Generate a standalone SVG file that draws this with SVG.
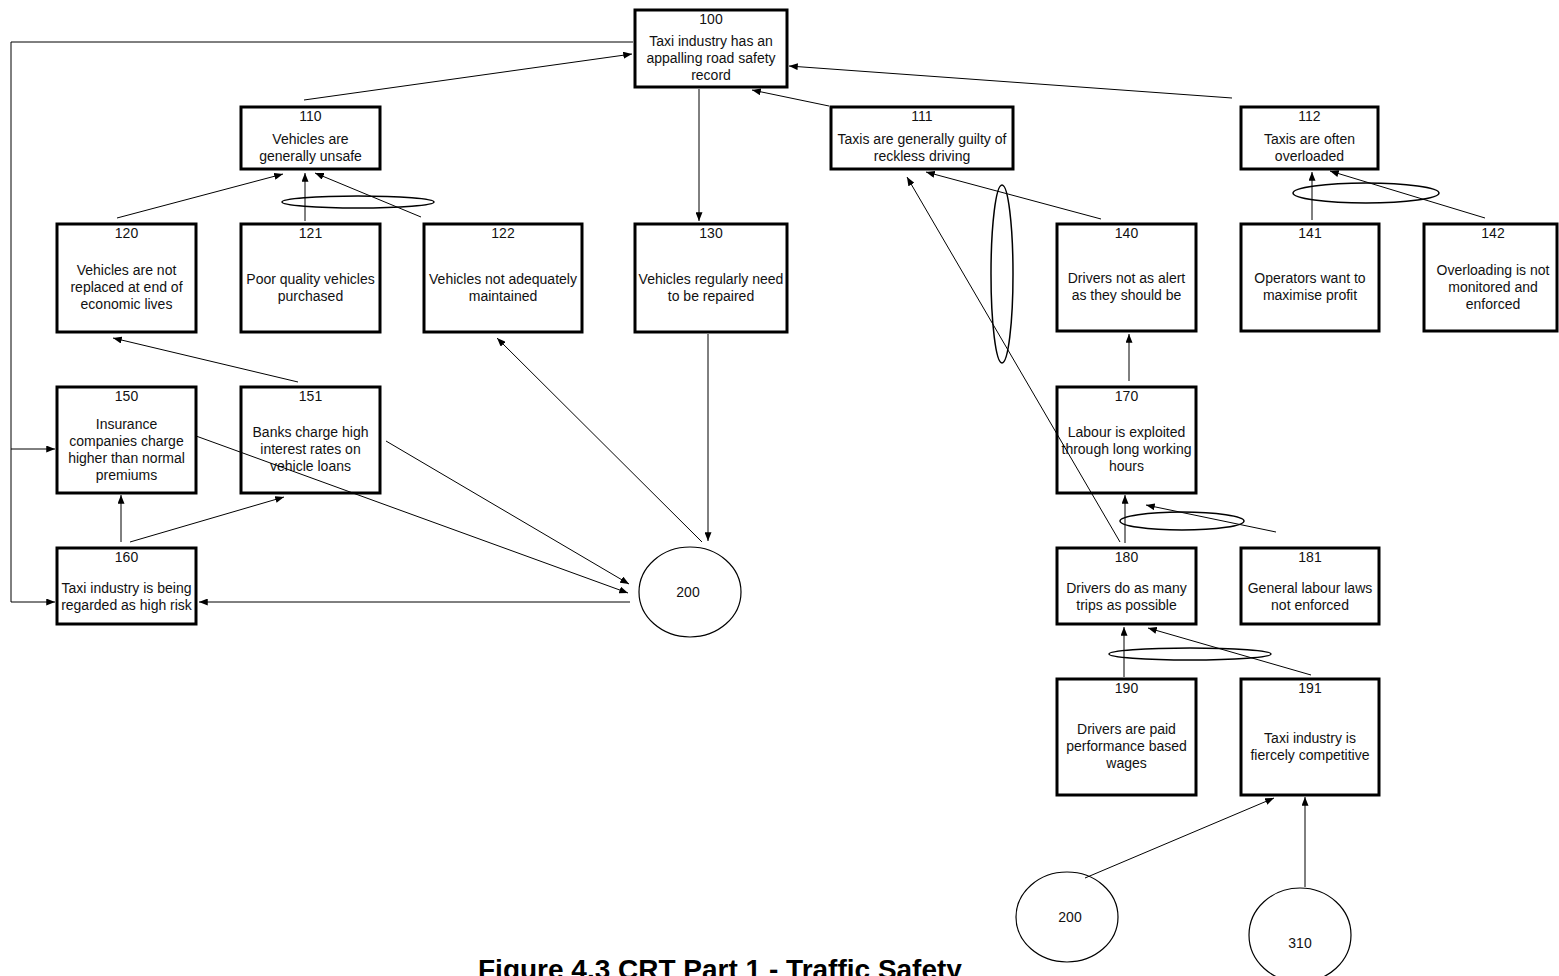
<svg xmlns="http://www.w3.org/2000/svg" width="1559" height="976" viewBox="0 0 1559 976">
<defs>
<style>
.box{fill:#fff;stroke:#000;stroke-width:3}
.t{font-family:"Liberation Sans",Arial,sans-serif;font-size:14px;fill:#111;text-anchor:middle}
.c{fill:none;stroke:#000;stroke-width:1}
.e{fill:none;stroke:#000;stroke-width:1.5}
.circ{fill:#fff;stroke:#000;stroke-width:1.2}
.title{font-family:"Liberation Sans",Arial,sans-serif;font-size:28px;font-weight:bold;fill:#000}
</style>
<marker id="ah" viewBox="0 0 10 8" refX="10" refY="4" markerWidth="9" markerHeight="7" markerUnits="userSpaceOnUse" orient="auto"><path d="M0,0 L10,4 L0,8 z" fill="#000"/></marker>
</defs>
<rect width="1559" height="976" fill="#fff"/>
<g id="nodes">
<g id="n100"><rect class="box" x="635" y="10" width="152" height="77"/><text class="t" x="711" y="23.5">100</text><text class="t" x="711" y="45.5">Taxi industry has an</text><text class="t" x="711" y="62.5">appalling road safety</text><text class="t" x="711" y="79.5">record</text></g>
<g id="n110"><rect class="box" x="241" y="107" width="139" height="62"/><text class="t" x="310.5" y="120.5">110</text><text class="t" x="310.5" y="143.5">Vehicles are</text><text class="t" x="310.5" y="160.5">generally unsafe</text></g>
<g id="n111"><rect class="box" x="831" y="107" width="182" height="62"/><text class="t" x="922" y="120.5">111</text><text class="t" x="922" y="143.5">Taxis are generally guilty of</text><text class="t" x="922" y="160.5">reckless driving</text></g>
<g id="n112"><rect class="box" x="1241" y="107" width="137" height="62"/><text class="t" x="1309.5" y="120.5">112</text><text class="t" x="1309.5" y="143.5">Taxis are often</text><text class="t" x="1309.5" y="160.5">overloaded</text></g>
<g id="n120"><rect class="box" x="57" y="224" width="139" height="108"/><text class="t" x="126.5" y="237.5">120</text><text class="t" x="126.5" y="275">Vehicles are not</text><text class="t" x="126.5" y="292">replaced at end of</text><text class="t" x="126.5" y="309">economic lives</text></g>
<g id="n121"><rect class="box" x="241" y="224" width="139" height="108"/><text class="t" x="310.5" y="237.5">121</text><text class="t" x="310.5" y="283.5">Poor quality vehicles</text><text class="t" x="310.5" y="300.5">purchased</text></g>
<g id="n122"><rect class="box" x="424" y="224" width="158" height="108"/><text class="t" x="503" y="237.5">122</text><text class="t" x="503" y="283.5">Vehicles not adequately</text><text class="t" x="503" y="300.5">maintained</text></g>
<g id="n130"><rect class="box" x="635" y="224" width="152" height="108"/><text class="t" x="711" y="237.5">130</text><text class="t" x="711" y="283.5">Vehicles regularly need</text><text class="t" x="711" y="300.5">to be repaired</text></g>
<g id="n140"><rect class="box" x="1057" y="224" width="139" height="107"/><text class="t" x="1126.5" y="237.5">140</text><text class="t" x="1126.5" y="283">Drivers not as alert</text><text class="t" x="1126.5" y="300">as they should be</text></g>
<g id="n141"><rect class="box" x="1241" y="224" width="138" height="107"/><text class="t" x="1310" y="237.5">141</text><text class="t" x="1310" y="283">Operators want to</text><text class="t" x="1310" y="300">maximise profit</text></g>
<g id="n142"><rect class="box" x="1424" y="224" width="133" height="107"/><text class="t" x="1493" y="237.5">142</text><text class="t" x="1493" y="274.5">Overloading is not</text><text class="t" x="1493" y="291.5">monitored and</text><text class="t" x="1493" y="308.5">enforced</text></g>
<g id="n150"><rect class="box" x="57" y="387" width="139" height="106"/><text class="t" x="126.5" y="400.5">150</text><text class="t" x="126.5" y="428.5">Insurance</text><text class="t" x="126.5" y="445.5">companies charge</text><text class="t" x="126.5" y="462.5">higher than normal</text><text class="t" x="126.5" y="479.5">premiums</text></g>
<g id="n151"><rect class="box" x="241" y="387" width="139" height="106"/><text class="t" x="310.5" y="400.5">151</text><text class="t" x="310.5" y="437">Banks charge high</text><text class="t" x="310.5" y="454">interest rates on</text><text class="t" x="310.5" y="471">vehicle loans</text></g>
<g id="n160"><rect class="box" x="57" y="548" width="139" height="76"/><text class="t" x="126.5" y="561.5">160</text><text class="t" x="126.5" y="592.5">Taxi industry is being</text><text class="t" x="126.5" y="609.5">regarded as high risk</text></g>
<g id="n170"><rect class="box" x="1057" y="387" width="139" height="106"/><text class="t" x="1126.5" y="400.5">170</text><text class="t" x="1126.5" y="437">Labour is exploited</text><text class="t" x="1126.5" y="454">through long working</text><text class="t" x="1126.5" y="471">hours</text></g>
<g id="n180"><rect class="box" x="1057" y="548" width="139" height="76"/><text class="t" x="1126.5" y="561.5">180</text><text class="t" x="1126.5" y="592.5">Drivers do as many</text><text class="t" x="1126.5" y="609.5">trips as possible</text></g>
<g id="n181"><rect class="box" x="1241" y="548" width="138" height="76"/><text class="t" x="1310" y="561.5">181</text><text class="t" x="1310" y="592.5">General labour laws</text><text class="t" x="1310" y="609.5">not enforced</text></g>
<g id="n190"><rect class="box" x="1057" y="679" width="139" height="116"/><text class="t" x="1126.5" y="692.5">190</text><text class="t" x="1126.5" y="734">Drivers are paid</text><text class="t" x="1126.5" y="751">performance based</text><text class="t" x="1126.5" y="768">wages</text></g>
<g id="n191"><rect class="box" x="1241" y="679" width="138" height="116"/><text class="t" x="1310" y="692.5">191</text><text class="t" x="1310" y="743">Taxi industry is</text><text class="t" x="1310" y="760">fiercely competitive</text></g>
<g id="c200a"><ellipse class="circ" cx="690" cy="592" rx="51" ry="45"/><text class="t" x="688" y="597">200</text></g>
<g id="c200b"><ellipse class="circ" cx="1067" cy="917" rx="51" ry="45"/><text class="t" x="1070" y="922">200</text></g>
<g id="c310"><ellipse class="circ" cx="1300" cy="935" rx="51" ry="47"/><text class="t" x="1300" y="948">310</text></g>
</g>
<g id="connectors">
<line class="c" x1="304" y1="100" x2="632" y2="54" marker-end="url(#ah)"/>
<line class="c" x1="829" y1="106" x2="752" y2="90" marker-end="url(#ah)"/>
<line class="c" x1="1232" y1="98" x2="789" y2="66" marker-end="url(#ah)"/>
<line class="c" x1="699" y1="89" x2="699" y2="221" marker-end="url(#ah)"/>
<polyline class="c" points="633,42 11,42 11,602 55,602" marker-end="url(#ah)"/>
<polyline class="c" points="11,449 55,449" marker-end="url(#ah)"/>
<line class="c" x1="117" y1="218" x2="283" y2="174" marker-end="url(#ah)"/>
<line class="c" x1="305" y1="221" x2="305" y2="173" marker-end="url(#ah)"/>
<line class="c" x1="421" y1="217" x2="315" y2="173" marker-end="url(#ah)"/>
<ellipse class="e" cx="358" cy="202" rx="76" ry="6"/>
<line class="c" x1="298" y1="382" x2="113" y2="338" marker-end="url(#ah)"/>
<line class="c" x1="121" y1="542" x2="121" y2="495" marker-end="url(#ah)"/>
<line class="c" x1="130" y1="542" x2="284" y2="497" marker-end="url(#ah)"/>
<line class="c" x1="196" y1="436" x2="628" y2="593" marker-end="url(#ah)"/>
<line class="c" x1="386" y1="441" x2="629" y2="584" marker-end="url(#ah)"/>
<line class="c" x1="702" y1="542" x2="497" y2="338" marker-end="url(#ah)"/>
<line class="c" x1="708" y1="334" x2="708" y2="541" marker-end="url(#ah)"/>
<line class="c" x1="630" y1="602" x2="199" y2="602" marker-end="url(#ah)"/>
<line class="c" x1="1101" y1="219" x2="926" y2="172" marker-end="url(#ah)"/>
<line class="c" x1="1120" y1="542" x2="907" y2="177" marker-end="url(#ah)"/>
<ellipse class="e" cx="1002" cy="274" rx="11" ry="89"/>
<line class="c" x1="1312" y1="220" x2="1312" y2="172" marker-end="url(#ah)"/>
<line class="c" x1="1485" y1="218" x2="1330" y2="171" marker-end="url(#ah)"/>
<ellipse class="e" cx="1366" cy="193" rx="73" ry="10"/>
<line class="c" x1="1129" y1="381" x2="1129" y2="334" marker-end="url(#ah)"/>
<line class="c" x1="1125" y1="543" x2="1125" y2="495" marker-end="url(#ah)"/>
<line class="c" x1="1276" y1="532" x2="1146" y2="505" marker-end="url(#ah)"/>
<ellipse class="e" cx="1182" cy="521" rx="62" ry="9"/>
<line class="c" x1="1124" y1="677" x2="1124" y2="627" marker-end="url(#ah)"/>
<line class="c" x1="1311" y1="675" x2="1148" y2="628" marker-end="url(#ah)"/>
<ellipse class="e" cx="1190" cy="654" rx="81" ry="6"/>
<line class="c" x1="1085" y1="878" x2="1274" y2="798" marker-end="url(#ah)"/>
<line class="c" x1="1305" y1="887" x2="1305" y2="797" marker-end="url(#ah)"/>
</g>
<text class="title" x="478" y="979">Figure 4.3 CRT Part 1 - Traffic Safety</text>
</svg>
